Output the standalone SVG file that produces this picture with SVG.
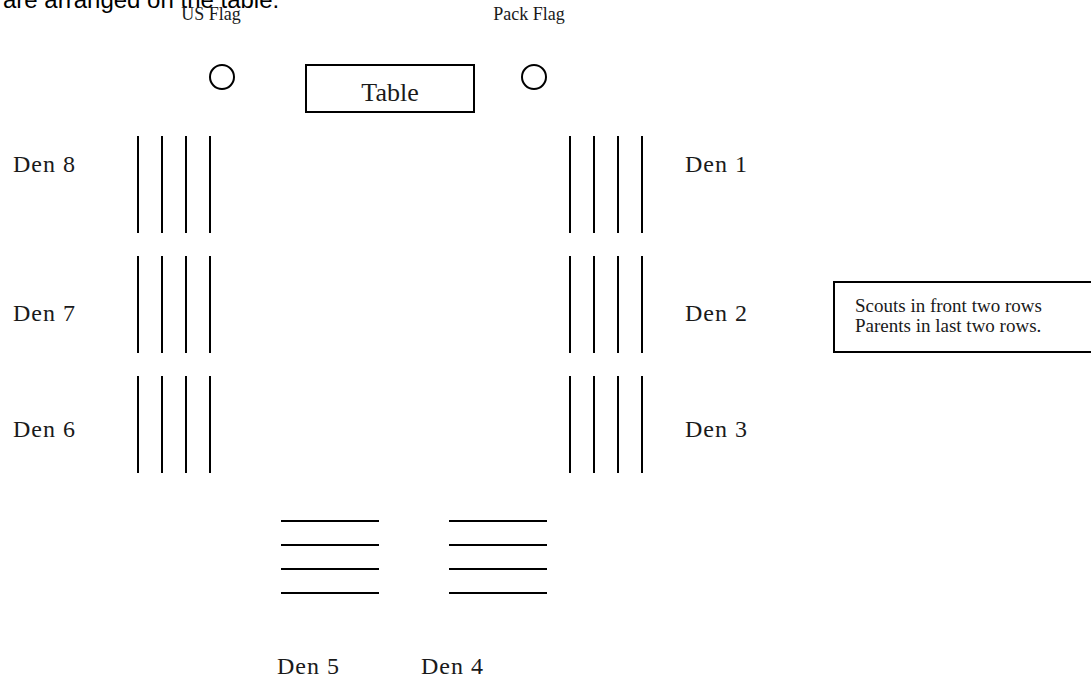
<svg xmlns="http://www.w3.org/2000/svg" width="1091" height="679" viewBox="0 0 1091 679">
<style>
.ln{stroke:#000;stroke-width:2;fill:none}
.sf{font-family:"Liberation Serif",serif;fill:#1a1a1a}
.den{font-size:24px;letter-spacing:1px}
.flag{font-size:18px;text-anchor:middle}
.note{font-size:19px}
</style>
<rect width="1091" height="679" fill="#fff"/>
<text x="3" y="8" font-family="Liberation Sans, Arial, sans-serif" font-size="24" fill="#000">are arranged on the table.</text>
<g id="us-flag"><text class="sf flag" x="211" y="20">US Flag</text><circle class="ln" cx="222" cy="77" r="12"/></g>
<g id="pack-flag"><text class="sf flag" x="529" y="20">Pack Flag</text><circle class="ln" cx="534" cy="77" r="12"/></g>
<g id="table"><rect class="ln" x="306" y="65" width="168" height="47"/><text class="sf" x="390" y="101" font-size="26" text-anchor="middle">Table</text></g>
<g id="den8"><text class="sf den" x="13" y="172">Den 8</text><path class="ln" d="M138 136V233M162 136V233M186 136V233M210 136V233"/></g>
<g id="den7"><text class="sf den" x="13" y="321">Den 7</text><path class="ln" d="M138 256V353M162 256V353M186 256V353M210 256V353"/></g>
<g id="den6"><text class="sf den" x="13" y="437">Den 6</text><path class="ln" d="M138 376V473M162 376V473M186 376V473M210 376V473"/></g>
<g id="den1"><text class="sf den" x="685" y="172">Den 1</text><path class="ln" d="M570 136V233M594 136V233M618 136V233M642 136V233"/></g>
<g id="den2"><text class="sf den" x="685" y="321">Den 2</text><path class="ln" d="M570 256V353M594 256V353M618 256V353M642 256V353"/></g>
<g id="den3"><text class="sf den" x="685" y="437">Den 3</text><path class="ln" d="M570 376V473M594 376V473M618 376V473M642 376V473"/></g>
<g id="den5"><path class="ln" d="M281 521H379M281 545H379M281 569H379M281 593H379"/><text class="sf den" x="277" y="674">Den 5</text></g>
<g id="den4"><path class="ln" d="M449 521H547M449 545H547M449 569H547M449 593H547"/><text class="sf den" x="421" y="674">Den 4</text></g>
<g id="note"><rect class="ln" x="834" y="282" width="262" height="70"/><text class="sf note" x="855" y="312">Scouts in front two rows</text><text class="sf note" x="855" y="332">Parents in last two rows.</text></g>
<g id="connectors"></g>
</svg>
